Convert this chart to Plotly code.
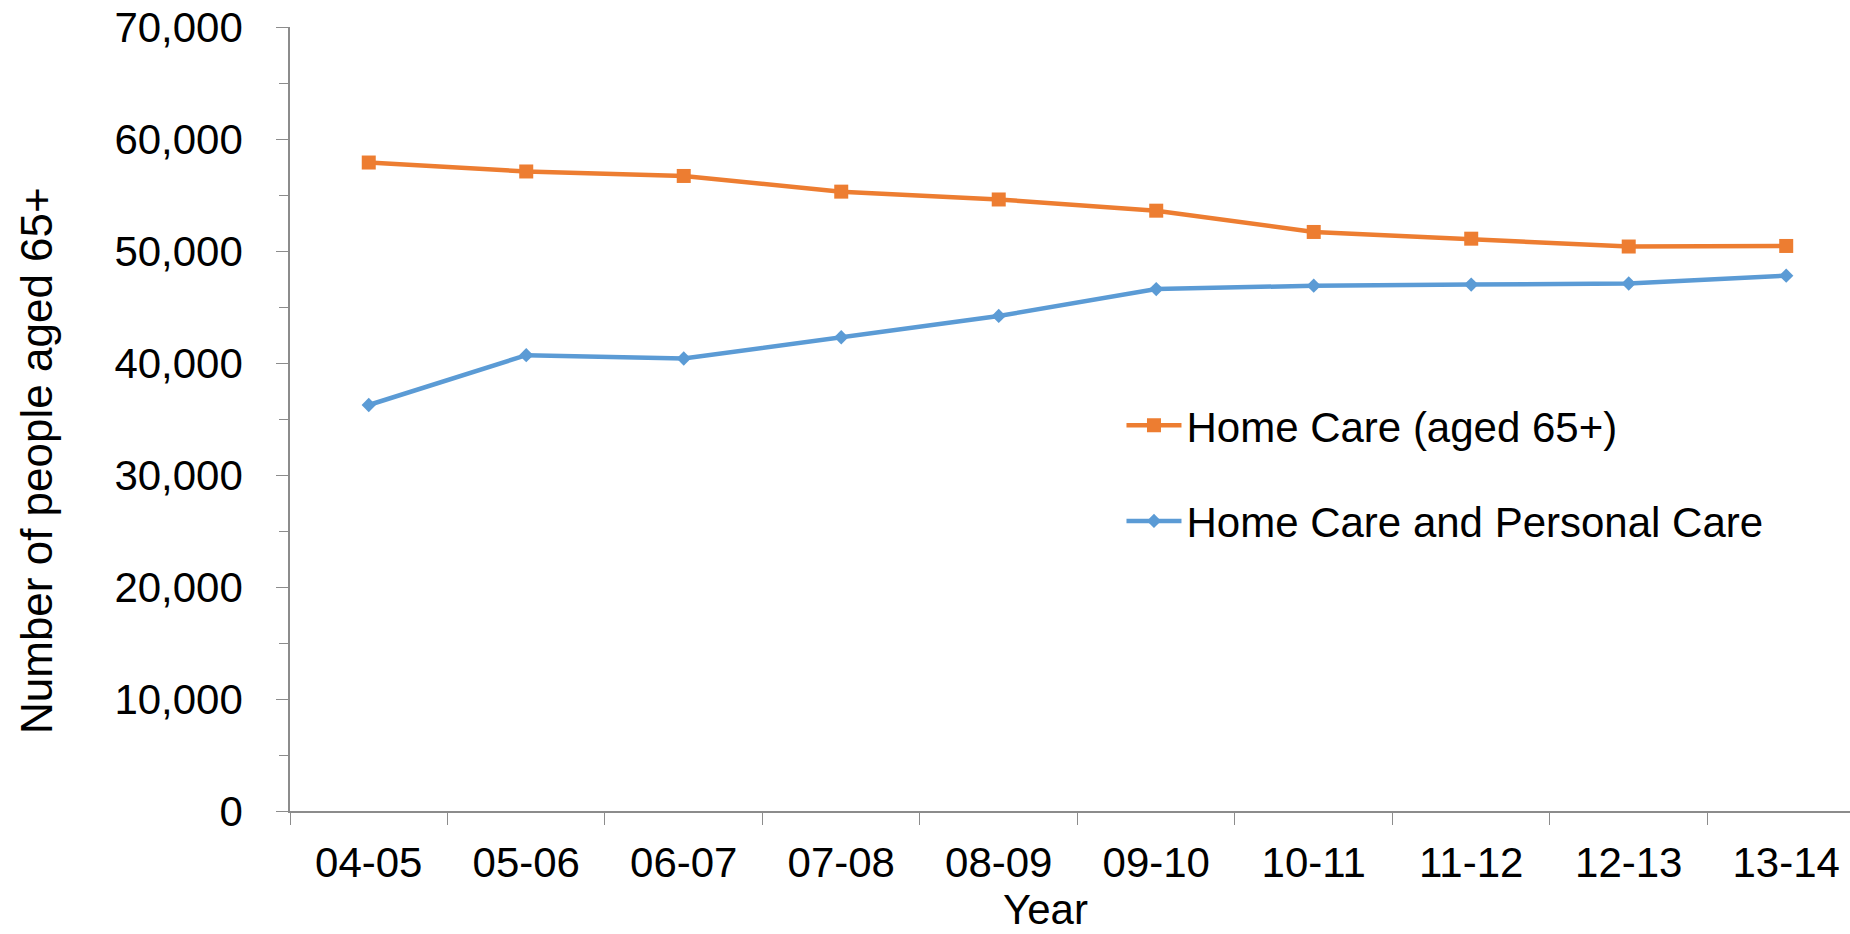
import plotly.graph_objects as go

# Financial years
years = ["04-05", "05-06", "06-07", "07-08", "08-09", "09-10", "10-11", "11-12", "12-13", "13-14"]

# Number of people aged 65+ receiving each type of care
home_care = [57900, 57100, 56700, 55300, 54600, 53600, 51700, 51100, 50400, 50450]
home_and_personal_care = [36250, 40700, 40400, 42300, 44200, 46600, 46900, 47000, 47100, 47800]

y_ticks = [0, 10000, 20000, 30000, 40000, 50000, 60000, 70000]

ORANGE = "#ED7D31"
BLUE = "#5B9BD5"
AXIS_GREY = "#8C8C8C"
FONT = "Liberation Sans, Arial, sans-serif"

fig = go.Figure()

fig.add_trace(go.Scatter(
    x=years, y=home_care, name="Home Care (aged 65+)",
    mode="lines+markers", legendgroup="a",
    line=dict(color=ORANGE, width=4.5),
    marker=dict(symbol="square", size=14, color=ORANGE),
))
fig.add_trace(go.Scatter(
    x=years, y=home_and_personal_care, name="Home Care and Personal Care",
    mode="lines+markers", legendgroup="b",
    line=dict(color=BLUE, width=4.5),
    marker=dict(symbol="diamond", size=11, color=BLUE),
))

fig.update_layout(
    width=1850, height=934,
    margin=dict(l=290, r=0, t=27, b=123),
    paper_bgcolor="white", plot_bgcolor="white",
    font=dict(family=FONT, size=42, color="#000000"),
    showlegend=True,
    legend=dict(
        x=0.533, y=0.535, xanchor="left", yanchor="top",
        font=dict(size=42, color="#000000"),
        bgcolor="rgba(0,0,0,0)",
        traceorder="grouped", tracegroupgap=38,
        itemwidth=55,
    ),
    xaxis=dict(
        type="category",
        range=[-0.5, 9.405],
        showline=True, linecolor=AXIS_GREY, linewidth=1.5,
        ticks="outside", tickson="boundaries", ticklen=12,
        tickcolor=AXIS_GREY, tickwidth=1.2,
        showgrid=False, zeroline=False,
        tickfont=dict(size=42),
        ticklabelstandoff=14,
    ),
    yaxis=dict(
        range=[0, 70000],
        tickvals=y_ticks, tickformat=",",
        showline=True, linecolor=AXIS_GREY, linewidth=1.5,
        ticks="outside", ticklen=12, tickcolor=AXIS_GREY, tickwidth=1.2,
        minor=dict(dtick=5000, ticks="outside", ticklen=9,
                   tickcolor=AXIS_GREY, tickwidth=1.2, showgrid=False),
        showgrid=False, zeroline=False,
        tickfont=dict(size=42),
        ticklabelstandoff=25,
    ),
    annotations=[
        dict(text="Number of people aged 65+", textangle=-90,
             xref="paper", yref="paper", x=0, y=0.4464,
             xanchor="center", yanchor="middle", xshift=-254,
             showarrow=False, font=dict(size=44)),
        dict(text="Year",
             xref="paper", yref="paper", x=0.4846, y=0,
             xanchor="center", yanchor="middle", yshift=-98,
             showarrow=False, font=dict(size=42)),
    ],
)

fig.write_html("out.html")
